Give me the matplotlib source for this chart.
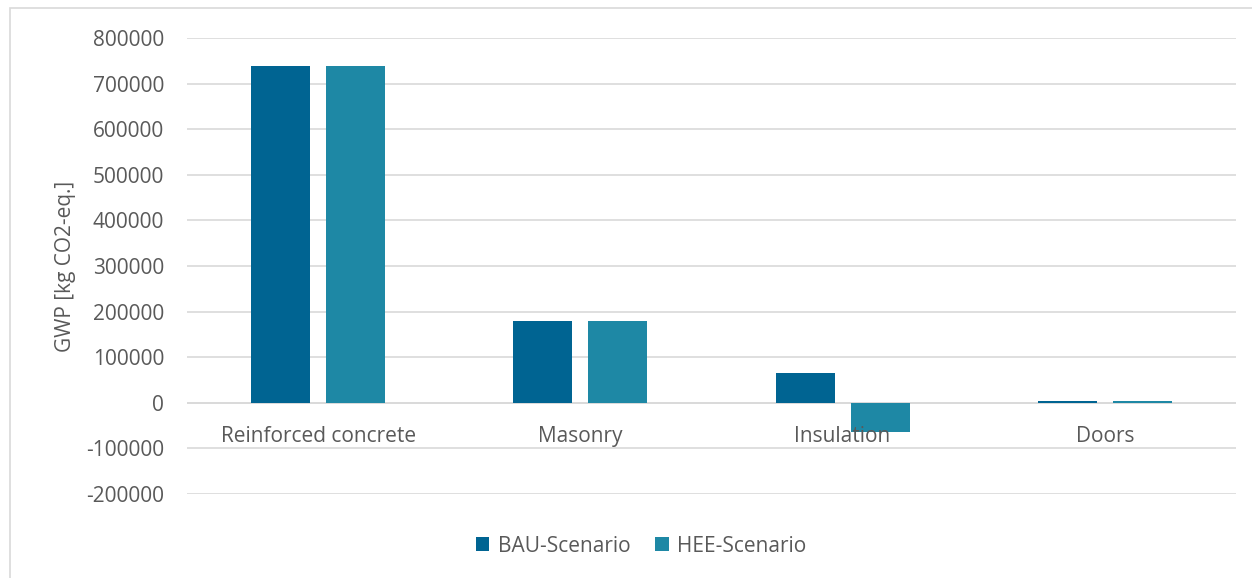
import matplotlib
matplotlib.use("Agg")
import matplotlib.pyplot as plt
import numpy as np
from matplotlib.patches import Rectangle

categories = ["Reinforced concrete", "Masonry", "Insulation", "Doors"]
bau = [739000, 180000, 66000, 4000]
hee = [739000, 180000, -64000, 4000]
series_names = ["BAU-Scenario", "HEE-Scenario"]
yticks = list(range(-200000, 800001, 100000))

plt.rcParams['font.family'] = ['Open Sans', 'DejaVu Sans']
txt = '#595959'
fs = 15

fig = plt.figure(figsize=(12.52, 5.78), dpi=100)
fig.add_artist(Rectangle((10/1252, -0.01), 1250/1252 - 10/1252 + 0.01, 1 - 8/578 + 0.01,
                         transform=fig.transFigure, fill=False, edgecolor='#d9d9d9', lw=1.2))
ax = fig.add_axes([187/1252, 1-494/578, (1236-187)/1252, (494-38)/578])

x = np.arange(len(categories))
w = 0.225
off = 0.143
ax.bar(x - off, bau, w, color='#006492', label=series_names[0], zorder=3)
ax.bar(x + off, hee, w, color='#1E88A5', label=series_names[1], zorder=3)

ax.set_xlim(-0.5, len(categories) - 0.5)
ax.set_ylim(-200000, 800000)
ax.set_yticks(yticks)
ax.set_yticklabels([str(v) for v in yticks])
ax.grid(axis='y', color='#d9d9d9', lw=1.2, zorder=0)
ax.axhline(0, color='#d9d9d9', lw=1.2, zorder=2)
for s in ax.spines.values():
    s.set_visible(False)
ax.tick_params(axis='y', length=0, labelsize=fs, colors=txt, pad=16.5)
ax.set_xticks([])
for i, c in enumerate(categories):
    ax.text(i, -74000, c, ha='center', va='center', fontsize=fs, color=txt, zorder=4)
ax.set_ylabel("GWP [kg CO2-eq.]", fontsize=fs, color=txt, labelpad=7)

leg = fig.legend(loc='center', bbox_to_anchor=(641/1252, 1-546/578), ncol=2, frameon=False,
                 fontsize=fs, handlelength=0.65, handleheight=0.65, handletextpad=0.4,
                 columnspacing=1.2, labelcolor=txt)

fig.savefig("out.png", dpi=100)
